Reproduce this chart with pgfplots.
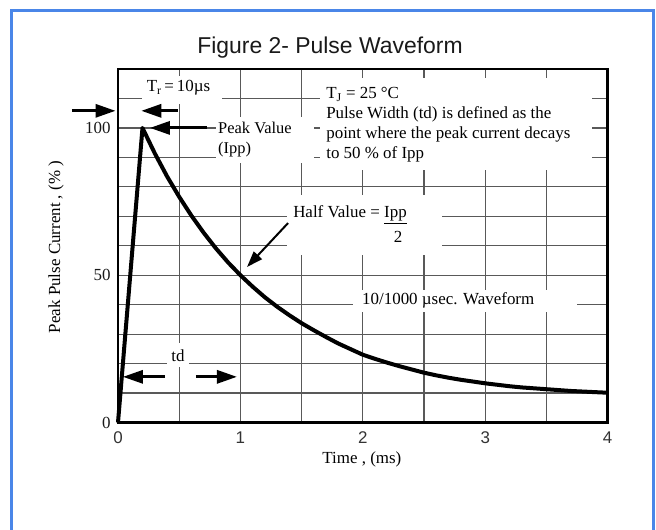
\documentclass[border=0pt]{standalone}
\usepackage{pgfplots}
\pgfplotsset{compat=1.18}
\usepackage{fontspec}
\setmainfont{Liberation Serif}
\newfontfamily\arial{Liberation Sans}
\usetikzlibrary{arrows.meta}
\definecolor{frameblue}{HTML}{4A86E8}
\begin{document}
\begin{tikzpicture}
\useasboundingbox (0,0) rectangle (656bp,530bp);
\draw[frameblue, line width=3bp] (11bp,-10bp) -- (11bp,519bp) -- (653bp,519bp) -- (653bp,-10bp);
\node[font=\arial\fontsize{23}{23}\selectfont, text=black!90] at (330bp,482bp) {Figure 2- Pulse Waveform};
\begin{axis}[
  at={(118bp,107.5bp)}, anchor=south west, scale only axis,
  width=489.7bp, height=353.5bp,
  xmin=0, xmax=4, ymin=0, ymax=120,
  clip=false,
  axis line style={line width=2.5bp},
  xtick={0,1,2,3,4}, minor xtick={0.5,1.5,2.5,3.5},
  ytick={0,50,100}, minor ytick={10,20,30,40,60,70,80,90,110},
  yticklabels={{0\hspace{12bp}},{50\hspace{12bp}},{100}},
  grid=both,
  major grid style={line width=1.2bp, black!65},
  minor grid style={line width=1.2bp, black!65},
  major tick length=0pt, minor tick length=0pt,
  /pgf/number format/assume math mode=true,
  xticklabel style={font=\arial\fontsize{17}{17}\selectfont, text=black!80, yshift=-6bp},
  yticklabel style={font=\fontsize{17}{17}\selectfont, text=black!90, xshift=-4bp},
  xlabel={Time , (ms)},
  ylabel={Peak Pulse Current , (\% )},
  xlabel style={font=\fontsize{17}{17}\selectfont, at={(axis description cs:0.498,-0.104)}, anchor=center},
  ylabel style={font=\fontsize{17}{17}\selectfont, at={(axis description cs:-0.1266,0.4965)}, anchor=center, rotate=0},
  every node/.append style={text=black!90},
]
\addplot[black, line width=4bp, line join=round] coordinates {
 (0,0) (0.2,100) (0.3,91.4) (0.4,83.6) (0.5,76.6) (0.6,70.2) (0.7,64.4)
 (0.8,59.1) (0.9,54.3) (1.0,50.0) (1.1,46.1) (1.2,42.5) (1.3,39.3)
 (1.4,36.4) (1.5,33.7) (1.6,31.3) (1.7,29.0) (1.8,26.8) (1.9,24.9)
 (2.0,23.0) (2.1,21.6) (2.2,20.3) (2.3,19.1) (2.4,18.0) (2.5,16.9)
 (2.6,16.0) (2.7,15.2) (2.8,14.5) (2.9,13.9) (3.0,13.3) (3.1,12.8)
 (3.2,12.3) (3.3,11.9) (3.4,11.6) (3.5,11.3) (3.6,11.0) (3.7,10.7)
 (3.8,10.5) (3.9,10.3) (4.0,10.1)
};
% white backgrounds behind annotations
\fill[white] (axis cs:0.196,108) rectangle (axis cs:0.85,117.5);
\fill[white] (axis cs:0.80,88) rectangle (axis cs:1.60,103.7);
\fill[white] (axis cs:1.65,85.7) rectangle (axis cs:3.873,117);
\fill[white] (axis cs:1.381,57) rectangle (axis cs:2.647,77.2);
\fill[white] (axis cs:1.92,37.5) rectangle (axis cs:3.75,45);
\fill[white] (axis cs:0.40,19) rectangle (axis cs:0.58,27);
% texts
\node[anchor=west, font=\fontsize{17}{17}\selectfont, inner sep=0pt] at (axis cs:0.234,113.6) {T\textsubscript{r}\,=\,10µs};
\node[anchor=west, align=left, font=\fontsize{16.5}{20}\selectfont, inner sep=0pt] at (axis cs:0.817,95.9) {Peak Value\\(Ipp)};
\node[anchor=west, align=left, font=\fontsize{17}{20}\selectfont, inner sep=0pt] at (axis cs:1.70,101) {T\textsubscript{J} = 25 °C\\Pulse Width (td) is defined as the\\point where the peak current decays\\to 50 \% of Ipp};
\node[anchor=west, font=\fontsize{17}{17}\selectfont, inner sep=0pt] at (axis cs:1.43,70.5) {Half Value = \underline{Ipp}};
\node[font=\fontsize{17}{17}\selectfont, inner sep=0pt] at (axis cs:2.288,63) {2};
\node[anchor=west, font=\fontsize{17}{17}\selectfont, inner sep=0pt] at (axis cs:1.993,41.6) {10/1000 µsec. Waveform};
\node[font=\fontsize{17}{17}\selectfont, inner sep=0pt] at (axis cs:0.49,22.6) {td};
% arrows
\draw[line width=3bp, -{Triangle[length=20bp,width=13bp]}] (axis cs:-0.376,105.8) -- (axis cs:-0.02,105.8);
\draw[line width=3bp, -{Triangle[length=20bp,width=13bp]}] (axis cs:0.49,105.8) -- (axis cs:0.19,105.8);
\draw[line width=3bp, -{Triangle[length=20bp,width=13bp]}] (axis cs:0.727,100) -- (axis cs:0.26,100);
\draw[line width=2bp, -{Triangle[length=16bp,width=11bp]}] (axis cs:1.389,67.7) -- (axis cs:1.054,52.8);
\draw[line width=3bp, -{Triangle[length=20bp,width=13bp]}] (axis cs:0.384,15.5) -- (axis cs:0.04,15.5);
\draw[line width=3bp, -{Triangle[length=20bp,width=13bp]}] (axis cs:0.637,15.5) -- (axis cs:0.972,15.5);
\end{axis}
\end{tikzpicture}
\end{document}
